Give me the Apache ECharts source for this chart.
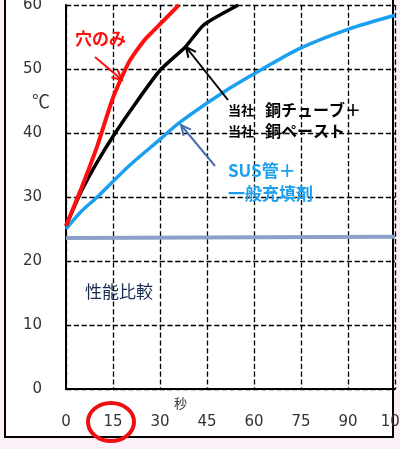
<!DOCTYPE html><html><head><meta charset="utf-8">
<script src="https://cdn.jsdelivr.net/npm/echarts@6/dist/echarts.min.js"></script>
<style>html,body{margin:0;padding:0;background:#fcf0f8}#c{width:400px;height:449px}</style></head>
<body><div id="c"></div><script>
const xTicks=[0,15,30,45,60,75,90,105];
const redData=[[0,25.5],[5,31.5],[10,38],[15,45.5],[20,51],[25,54.5],[30,57],[36,60]];
const blackData=[[0,25.5],[5,31],[10,35.5],[15.7,40],[22,44.5],[30,49.8],[38,53.4],[44,56.9],[55,60]];
const blueData=[[0,25],[5,27.8],[10,30],[20,34.8],[30,39],[36.4,41.7],[50,46.3],[62,49.8],[75,53.3],[90,56.2],[105,58.4]];
const grayData=[[0,23.6],[105,23.8]];
const c=echarts.init(document.getElementById('c'));
const F='DejaVu Sans';
const txt=(x,y,t,col,sz,w)=>({type:'text',left:x,top:y,style:{text:t,fill:col,font:(w||'normal')+' '+sz+'px "Noto Sans CJK JP"'},z:10});
const arr=(x1,y1,x2,y2,col)=>{const a=Math.atan2(y2-y1,x2-x1),L=11;return [{type:'line',shape:{x1,y1,x2,y2},style:{stroke:col,lineWidth:2},z:10},{type:'polyline',shape:{points:[[x2-L*Math.cos(a-0.45),y2-L*Math.sin(a-0.45)],[x2,y2],[x2-L*Math.cos(a+0.45),y2-L*Math.sin(a+0.45)]]},style:{stroke:col,lineWidth:2,fill:null},z:10}];};
c.setOption({
 animation:false,
 graphic:[
  {type:'rect',shape:{x:5,y:-3,width:388,height:440},style:{fill:'#fff',stroke:'#000',lineWidth:2},z:-10},
  txt(75,30,'穴のみ','#ff1010',17,'bold'),
  txt(228,104,'当社','#000',13,'bold'),txt(265,102,'銅チューブ＋','#000',16,'bold'),
  txt(228,125,'当社','#000',13,'bold'),txt(265,123,'銅ペースト','#000',16,'bold'),
  txt(228,162,'SUS管＋','#1aa0ee',17,'bold'),txt(228,185,'一般充填剤','#1aa0ee',17,'bold'),
  txt(85,283,'性能比較','#1a2a50',17),
  txt(32,92,'℃','#333',18),
  txt(174,397,'秒','#333',13),
  ...arr(95,57,122,80,'#ff1010'),
  ...arr(228,100,186,47,'#000'),
  ...arr(215,166,181,125,'#4a6fb0'),
  {type:'ellipse',shape:{cx:111,cy:422,rx:23,ry:19},style:{stroke:'#ee1010',lineWidth:4,fill:null},z:10}
 ],
 grid:{left:66,right:5,top:5,bottom:60,containLabel:false,outerBoundsMode:'none'},
 xAxis:{type:'value',min:0,max:105,interval:15,axisLine:{lineStyle:{color:'#000',width:2}},axisTick:{show:false},
  axisLabel:{color:'#333',fontFamily:F,fontSize:15,margin:26},
  splitLine:{lineStyle:{color:'#000',type:'dashed',width:1.3}}},
 yAxis:{type:'value',min:0,max:60,interval:10,axisLine:{show:true,lineStyle:{color:'#000',width:2}},axisTick:{show:false},
  axisLabel:{color:'#333',fontFamily:F,fontSize:15,margin:24},
  splitLine:{lineStyle:{color:'#000',type:'dashed',width:1.3}}},
 series:[
  {type:'line',data:grayData,symbol:'none',lineStyle:{color:'#8aa0c8',width:4},z:2},
  {type:'line',data:blueData,symbol:'none',smooth:0.3,lineStyle:{color:'#1aa0ee',width:3.5},z:3},
  {type:'line',data:blackData,symbol:'none',smooth:0.2,lineStyle:{color:'#000',width:3.5},z:4},
  {type:'line',data:redData,symbol:'none',smooth:0.2,lineStyle:{color:'#ff1010',width:4},z:5}
 ]
});
</script></body></html>
